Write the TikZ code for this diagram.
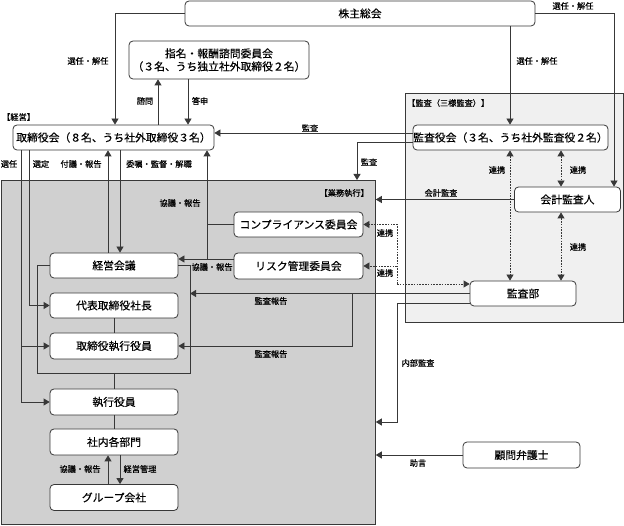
\documentclass[tikz,border=0pt]{standalone}
\usepackage{fontspec}
\newfontfamily\jp[FakeBold=0.35]{Noto Sans CJK JP}
\newfontfamily\jplab[FakeBold=0.5]{Noto Sans CJK JP}
\usetikzlibrary{arrows.meta}
\definecolor{ln}{HTML}{383838}
\definecolor{gyomufill}{HTML}{D0D0D0}
\definecolor{kansafill}{HTML}{F0F0F0}
\tikzset{
  box/.style={draw=ln, fill=white, rounded corners=4pt, line width=0.8pt, inner sep=0pt, font=\jp\fontsize{10.8}{13}\selectfont, align=center},
  region/.style={draw=ln, line width=0.8pt, inner sep=0pt},
  lab/.style={font=\jplab\fontsize{8.2}{10}\selectfont, inner sep=0pt, text=black},
  conn/.style={draw=ln, line width=0.8pt},
  arr/.style={conn, -{Triangle[length=6pt,width=7pt]}},
  darr/.style={conn, dash pattern=on 1.6pt off 1.2pt, {Triangle[length=6pt,width=7pt]}-{Triangle[length=6pt,width=7pt]}},
  dotarr/.style={conn, dash pattern=on 1.6pt off 1.2pt, -{Triangle[length=6pt,width=7pt]}}
}
\begin{document}
\begin{tikzpicture}[x=1pt,y=-1pt]
\useasboundingbox (0,0) rectangle (624,526);
\fill[white] (0,0) rectangle (624,526);
% regions
\node[region, fill=gyomufill, minimum width=374pt, minimum height=344pt, anchor=north west] (gyomu) at (1,180) {};
\node[region, fill=kansafill, minimum width=218pt, minimum height=229pt, anchor=north west] (kansa) at (405,93) {};
% x / y helper coordinates
\foreach \xx in {21,29,37,108,114,115,120,158,188,190,207,352,357,397,510,561,614}{\coordinate (x\xx) at (\xx,0);}
\foreach \yy in {133,142,259,284,303,373,422}{\coordinate (y\yy) at (0,\yy);}
% nodes
\node[box, minimum width=350pt, minimum height=25pt] (sh) at (360,13.5) {株主総会};
\node[box, minimum width=180pt, minimum height=38pt] (nom) at (219,60) {指名・報酬諮問委員会\\（３名、うち独立社外取締役２名）};
\node[box, minimum width=201pt, minimum height=25pt] (bod) at (113.5,137.5) {取締役会（８名、うち社外取締役３名）};
\node[box, minimum width=195pt, minimum height=25pt] (kan) at (510.5,137.5) {監査役会（３名、うち社外監査役２名）};
\node[box, minimum width=106pt, minimum height=25pt] (kaikei) at (567.5,199.5) {会計監査人};
\node[box, minimum width=106pt, minimum height=25pt] (kansabu) at (523,293.5) {監査部};
\node[box, minimum width=117pt, minimum height=26pt] (komon) at (521.5,455) {顧問弁護士};
\node[box, minimum width=129pt, minimum height=25pt] (comp) at (298.5,224.5) {コンプライアンス委員会};
\node[box, minimum width=129pt, minimum height=26pt] (risk) at (298.5,266) {リスク管理委員会};
\node[box, minimum width=128pt, minimum height=25pt] (keiei) at (114,265.5) {経営会議};
\node[box, minimum width=128pt, minimum height=25pt] (pres) at (114,305.5) {代表取締役社長};
\node[box, minimum width=128pt, minimum height=26pt] (tde) at (114,346) {取締役執行役員};
\node[box, minimum width=128pt, minimum height=26pt] (exe) at (114,402) {執行役員};
\node[box, minimum width=128pt, minimum height=26pt] (dept) at (114,442) {社内各部門};
\node[box, minimum width=128pt, minimum height=26pt] (grp) at (114,497.5) {グループ会社};
% connectors
\draw[arr] (sh.west) -| (bod.north -| x115);
\draw[arr] (bod.north -| x158) -- (nom.south -| x158);
\draw[arr] (nom.south -| x188) -- (bod.north -| x188);
\draw[arr] (sh.south -| x510) -- (kan.north -| x510);
\draw[arr] (sh.east) -| (kaikei.north -| x614);
\draw[arr] (kan.west |- y133) -- (bod.east |- y133);
\draw[arr] (kan.west |- y142) -| (gyomu.north -| x357);
\draw[darr] (kan.south -| x510) -- (kansabu.north -| x510);
\draw[darr] (kan.south -| x561) -- (kaikei.north -| x561);
\draw[darr] (kaikei.south -| x561) -- (kansabu.north -| x561);
\draw[arr] (kaikei.west) -- (kaikei.west -| gyomu.east);
\draw[dotarr] (x397 |- y284) |- (comp.east);
\draw[dotarr] (x397 |- risk.east) -- (risk.east);
\draw[dotarr] (x397 |- y284) -- (kansabu.west |- y284);
\draw[arr] (kansabu.west) -- (x190 |- kansabu.west);
\draw[arr] (x352 |- kansabu.west) |- (tde.east);
\draw[arr] (kansabu.west |- y303) -| (x397 |- y422) -- (gyomu.east |- y422);
\draw[arr] (komon.west) -- (komon.west -| gyomu.east);
% left side
\draw[arr] (bod.south -| x21) |- (exe.west);
\draw[arr] (x21 |- tde.west) -- (tde.west);
\draw[arr] (bod.south -| x29) |- (pres.west);
\draw[arr] (keiei.north -| x108) -- (bod.south -| x108);
\draw[arr] (bod.south -| x120) -- (keiei.north -| x120);
\draw[arr] (x207 |- y259) -- (bod.south -| x207);
\draw[conn] (comp.west) -- (x207 |- comp.west);
\draw[arr] (risk.west |- y259) -- (keiei.east |- y259);
\draw[conn] (keiei.west) -| (x37 |- y373) -| (x190 |- keiei.east) -- (keiei.east);
\draw[conn] (pres.south) -- (tde.north);
\draw[conn] (x114 |- y373) -- (exe.north);
\draw[conn] (exe.south) -- (dept.north);
\draw[arr] (grp.north -| x108) -- (dept.south -| x108);
\draw[arr] (dept.south -| x120) -- (grp.north -| x120);
% labels
\node[lab] (l1) at (88,61) {選任・解任};
\node[lab] (l2) at (145,101) {諮問};
\node[lab] (l3) at (200,101) {答申};
\node[lab, anchor=west] (l4) at (2,117) {【経営】};
\node[lab] (l5) at (310,128) {監査};
\node[lab] (l6) at (573,6) {選任・解任};
\node[lab] (l7) at (537,61) {選任・解任};
\node[lab] (l8) at (369,162) {監査};
\node[lab, anchor=west] (l9) at (407,103) {【監査（三様監査）】};
\node[lab, anchor=east] (l10) at (369,193) {【業務執行】};
\node[lab] (l11) at (441,193) {会計監査};
\node[lab] (l12) at (497,170) {連携};
\node[lab] (l13) at (578,170) {連携};
\node[lab] (l14) at (578,247) {連携};
\node[lab] (l15) at (385,233) {連携};
\node[lab] (l16) at (385,273) {連携};
\node[lab] (l17) at (9,164) {選任};
\node[lab] (l18) at (41,164) {選定};
\node[lab] (l19) at (81,164) {付議・報告};
\node[lab] (l20) at (159,164) {委嘱・監督・解職};
\node[lab] (l21) at (180,203) {協議・報告};
\node[lab] (l22) at (212,267) {協議・報告};
\node[lab] (l23) at (271,301) {監査報告};
\node[lab] (l24) at (271,354) {監査報告};
\node[lab] (l25) at (418,363) {内部監査};
\node[lab] (l26) at (418,463) {助言};
\node[lab] (l27) at (80,469) {協議・報告};
\node[lab] (l28) at (140,469) {経営管理};
\end{tikzpicture}
\end{document}
